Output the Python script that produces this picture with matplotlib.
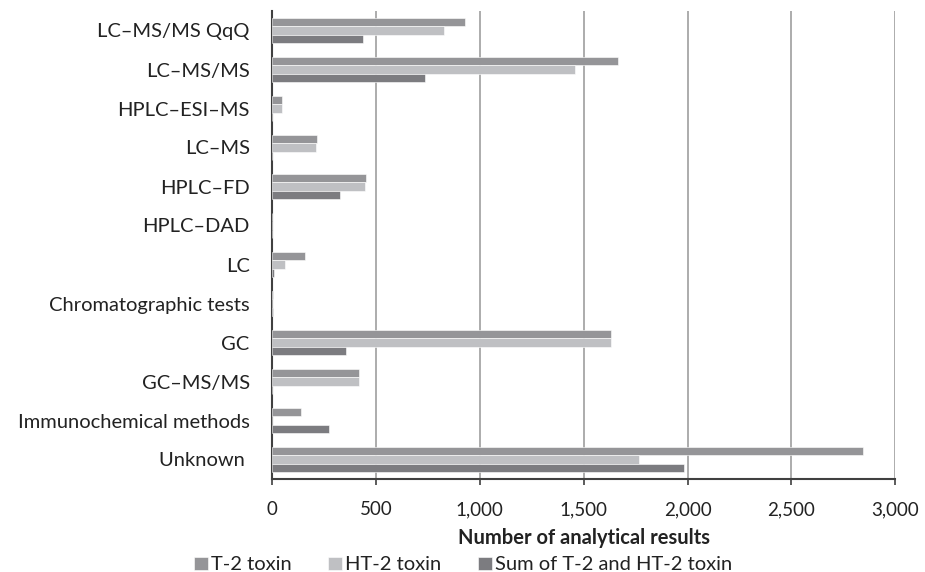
import numpy as np
import matplotlib
matplotlib.use("Agg")
import matplotlib.pyplot as plt

plt.rcParams['font.family'] = ['Lato', 'DejaVu Sans']

methods = ["LC–MS/MS QqQ", "LC–MS/MS", "HPLC–ESI–MS", "LC–MS", "HPLC–FD",
           "HPLC–DAD", "LC", "Chromatographic tests", "GC", "GC–MS/MS",
           "Immunochemical methods", "Unknown "]
t2 = [928, 1663, 48, 219, 453, 2, 160, 5, 1631, 420, 141, 2843]
ht2 = [827, 1457, 48, 211, 450, 2, 65, 0, 1631, 420, 0, 1766]
sum_t2_ht2 = [437, 736, 0, 0, 327, 0, 10, 5, 357, 0, 273, 1983]

series_names = ["T-2 toxin", "HT-2 toxin", "Sum of T-2 and HT-2 toxin"]
colors = ["#959598", "#bfc0c3", "#7c7c80"]

fig = plt.figure(figsize=(9.25, 5.72), dpi=100)
ax = fig.add_axes([0.294, 1 - 479 / 572, 0.674, 468 / 572])

y = np.arange(len(methods))
h = 0.222
for i, (vals, name, c) in enumerate(zip([t2, ht2, sum_t2_ht2], series_names, colors)):
    ax.barh(y + (i - 1) * h, vals, height=h, color=c, label=name,
            edgecolor="white", linewidth=0.4, zorder=3)

ax.set_ylim(len(methods) - 0.5, -0.5)
ax.set_xlim(0, 3000)
ax.set_xticks(np.arange(0, 3001, 500))
ax.set_xticklabels([f"{v:,}" for v in range(0, 3001, 500)])
ax.set_yticks(y)
ax.set_yticklabels(methods)

ax.grid(axis="x", color="#a6a6a6", linewidth=1.3, zorder=0)
for s in ["top", "right"]:
    ax.spines[s].set_visible(False)
ax.spines["left"].set_color("#404040")
ax.spines["left"].set_linewidth(1.5)
ax.spines["bottom"].set_color("#404040")
ax.spines["bottom"].set_linewidth(1.5)

ax.tick_params(axis="y", length=0, pad=16, labelsize=14.5, labelcolor="#222222")
ax.tick_params(axis="x", direction="out", length=4, width=1.2, color="#404040",
               pad=12, labelsize=13.5, labelcolor="#222222")

ax.set_xlabel("Number of analytical results", fontsize=14.5, fontweight="bold",
              color="#222222", labelpad=7)

fig.legend(loc="center", bbox_to_anchor=(463 / 925, 1 - 565 / 572), ncol=3,
           frameon=False, fontsize=14.5, handlelength=0.7, handleheight=0.65,
           handletextpad=0.15, columnspacing=1.8, labelcolor="#222222",
           borderpad=0, borderaxespad=0)

fig.savefig("out.png", dpi=100)
